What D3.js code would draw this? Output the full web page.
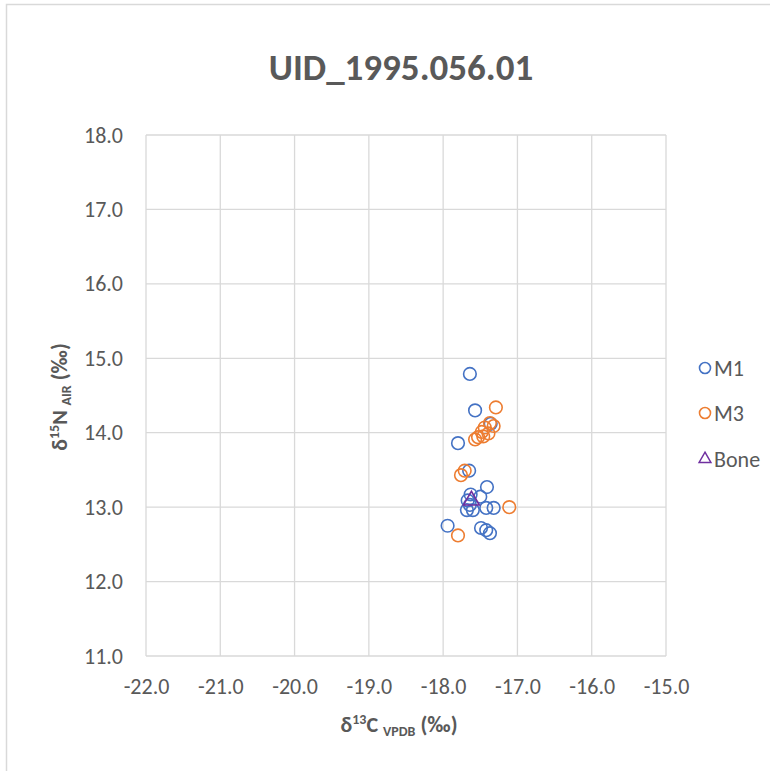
<!DOCTYPE html>
<html><head><meta charset="utf-8">
<script src="https://cdn.jsdelivr.net/npm/d3@7"></script>
<style>body{margin:0;background:#fff;} svg{display:block;}</style>
</head><body>
<script>
const title = "UID_1995.056.01";
const xTicks = [-22, -21, -20, -19, -18, -17, -16, -15];
const yTicks = [11, 12, 13, 14, 15, 16, 17, 18];
const seriesNames = ["M1", "M3", "Bone"];
const m1C = [-17.64, -17.57, -17.80, -17.36, -17.65, -17.41, -17.63, -17.67, -17.50, -17.68, -17.60, -17.42, -17.32, -17.94, -17.49, -17.42, -17.37, -17.64];
const m1N = [14.79, 14.30, 13.86, 14.12, 13.49, 13.27, 13.17, 13.09, 13.14, 12.96, 12.96, 12.99, 12.99, 12.75, 12.72, 12.69, 12.65, 13.03];
const m3C = [-17.29, -17.37, -17.32, -17.44, -17.48, -17.53, -17.57, -17.46, -17.39, -17.76, -17.71, -17.11, -17.80];
const m3N = [14.34, 14.13, 14.09, 14.07, 14.01, 13.94, 13.91, 13.95, 13.99, 13.43, 13.49, 13.00, 12.62];
const boneC = [-17.62];
const boneN = [13.09];

const W = 770, H = 771;
const font = "Carlito, Calibri, Lato, 'Open Sans', sans-serif";
const txt = "#595959", grid = "#d9d9d9";
const svg = d3.select("body").append("svg").attr("width", W).attr("height", H);
svg.append("rect").attr("x", 6.5).attr("y", 4.5).attr("width", W).attr("height", H)
  .attr("fill", "#fff").attr("stroke", grid).attr("stroke-width", 1.5);

const L = 146, R = 666, T = 135, B = 656;
const x = d3.scaleLinear().domain([-22, -15]).range([L, R]);
const y = d3.scaleLinear().domain([11, 18]).range([B, T]);

// gridlines
svg.append("g").selectAll("line").data(yTicks).join("line")
  .attr("x1", L).attr("x2", R).attr("y1", d => y(d)).attr("y2", d => y(d))
  .attr("stroke", grid).attr("stroke-width", 1.3);
svg.append("g").selectAll("line").data(xTicks).join("line")
  .attr("y1", T).attr("y2", B).attr("x1", d => x(d)).attr("x2", d => x(d))
  .attr("stroke", grid).attr("stroke-width", 1.3);

// axes labels via d3 axes
const xa = svg.append("g").attr("transform", `translate(0,${B})`)
  .call(d3.axisBottom(x).tickValues(xTicks).tickFormat(d3.format(".1f")).tickSize(0).tickPadding(22));
const ya = svg.append("g").attr("transform", `translate(${L},0)`)
  .call(d3.axisLeft(y).tickValues(yTicks).tickFormat(d3.format(".1f")).tickSize(0).tickPadding(23));
[xa, ya].forEach(a => {
  a.select(".domain").remove();
  a.selectAll("text").attr("fill", txt).style("font-family", font).style("font-size", "22px");
});
xa.selectAll("text").text(d => d3.format(".1f")(d).replace("−", "-"));

// title
svg.append("text").attr("x", 401).attr("y", 80).attr("text-anchor", "middle")
  .attr("fill", txt).style("font-family", font).style("font-size", "37px").style("font-weight", "bold")
  .text(title);

// x axis title
const xt = svg.append("text").attr("x", 399).attr("y", 732).attr("text-anchor", "middle")
  .attr("fill", txt).style("font-family", font).style("font-size", "22px").style("font-weight", "bold");
xt.append("tspan").text("δ");
xt.append("tspan").attr("dy", -8).style("font-size", "14px").text("13");
xt.append("tspan").attr("dy", 8).text("C ");
xt.append("tspan").attr("dy", 4).style("font-size", "14px").text("VPDB");
xt.append("tspan").attr("dy", -4).text(" (‰)");

// y axis title
const yt = svg.append("text").attr("transform", "translate(67,397) rotate(-90)").attr("text-anchor", "middle")
  .attr("fill", txt).style("font-family", font).style("font-size", "22px").style("font-weight", "bold");
yt.append("tspan").text("δ");
yt.append("tspan").attr("dy", -8).style("font-size", "14px").text("15");
yt.append("tspan").attr("dy", 8).text("N ");
yt.append("tspan").attr("dy", 4).style("font-size", "14px").text("AIR");
yt.append("tspan").attr("dy", -4).text(" (‰)");

// points
const colors = {M1: "#4472c4", M3: "#ed7d31", Bone: "#7030a0"};
const m1 = m1C.map((c, i) => ({c, n: m1N[i]}));
const m3 = m3C.map((c, i) => ({c, n: m3N[i]}));
const bone = boneC.map((c, i) => ({c, n: boneN[i]}));
svg.append("g").selectAll("circle").data(m1).join("circle")
  .attr("cx", d => x(d.c)).attr("cy", d => y(d.n)).attr("r", 6.3)
  .attr("fill", "none").attr("stroke", colors.M1).attr("stroke-width", 1.6);
svg.append("g").selectAll("circle").data(m3).join("circle")
  .attr("cx", d => x(d.c)).attr("cy", d => y(d.n)).attr("r", 6.3)
  .attr("fill", "none").attr("stroke", colors.M3).attr("stroke-width", 1.6);
const tri = d3.symbol().type(d3.symbolTriangle).size(110);
svg.append("g").selectAll("path").data(bone).join("path")
  .attr("d", tri).attr("transform", d => `translate(${x(d.c)},${y(d.n)})`)
  .attr("fill", "none").attr("stroke", colors.Bone).attr("stroke-width", 1.6);

// legend
const lg = svg.append("g");
const ly = [368, 413, 459];
seriesNames.forEach((s, i) => {
  if (s === "Bone") {
    lg.append("path").attr("d", d3.symbol().type(d3.symbolTriangle).size(60)())
      .attr("transform", `translate(705,${ly[i]})`).attr("fill", "none").attr("stroke", colors[s]).attr("stroke-width", 1.5);
  } else {
    lg.append("circle").attr("cx", 705).attr("cy", ly[i]).attr("r", 5.5)
      .attr("fill", "none").attr("stroke", colors[s]).attr("stroke-width", 1.6);
  }
  lg.append("text").attr("x", 714).attr("y", ly[i]).attr("dy", "0.35em")
    .attr("fill", txt).style("font-family", font).style("font-size", "22px").text(s);
});
</script>
</body></html>
